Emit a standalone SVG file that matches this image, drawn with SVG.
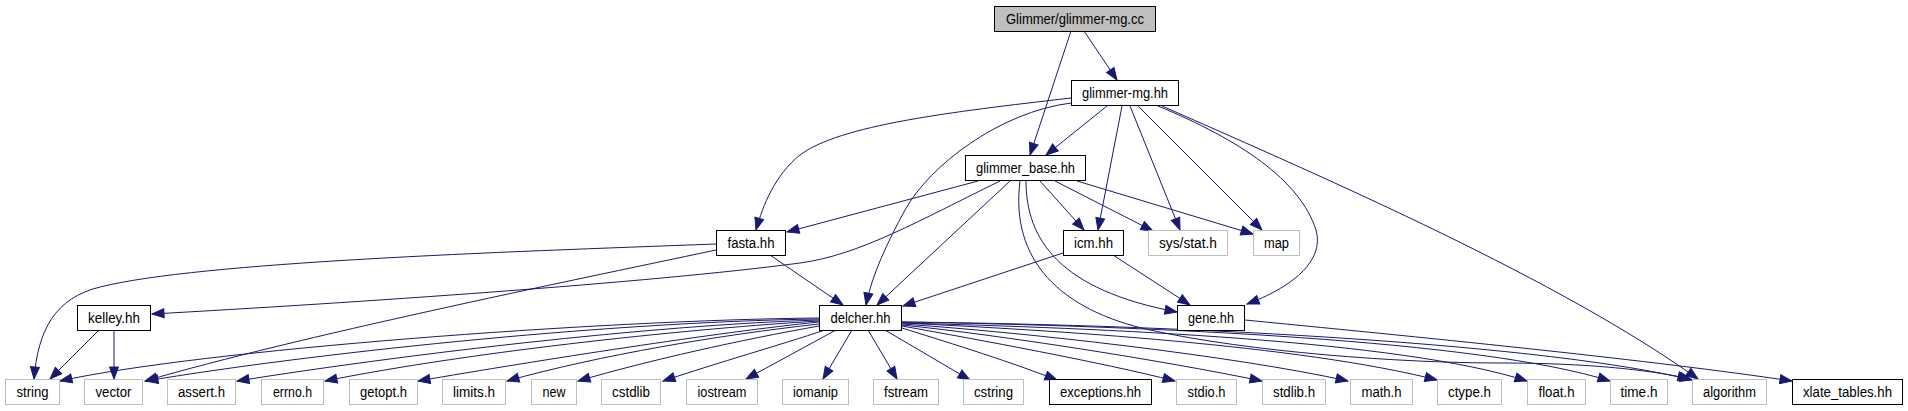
<svg xmlns="http://www.w3.org/2000/svg" width="1908" height="411" viewBox="0 0 1908 411">
<style>
.e{fill:none;stroke:#191970;stroke-width:1;marker-end:url(#ah)}
.n rect{fill:#fff;stroke:#000;stroke-width:1}
.x rect{fill:#fff;stroke:#bfbfbf;stroke-width:1}
.r rect{fill:#bfbfbf;stroke:#000;stroke-width:1}
text{font-family:"Liberation Sans",Arial,sans-serif;font-size:14px;fill:#000;text-anchor:middle}
</style>
<defs>
<marker id="ah" markerUnits="userSpaceOnUse" markerWidth="13" markerHeight="10" refX="12" refY="4.5" orient="auto" overflow="visible">
<path d="M0,0 L12,4.5 L0,9 z" fill="#191970" stroke="#191970" stroke-width="1"/>
</marker>
</defs>
<rect width="1908" height="411" fill="#fff"/>
<g id="edges">
<path class="e" d="M1084,31 L1117,80"/>
<path class="e" d="M1071,31 L1030,155"/>
<path class="e" d="M1107,106 L1046,155"/>
<path class="e" d="M1071,98 C950,112 840,125 800,155 C775,175 763,205 756,230"/>
<path class="e" d="M1071,103 C1000,112 930,165 905,210 C887,243 872,275 866,305"/>
<path class="e" d="M1122,106 L1098,230"/>
<path class="e" d="M1130,106 L1180,230"/>
<path class="e" d="M1138,106 L1262,230"/>
<path class="e" d="M1158,106 C1240,140 1300,180 1316,230 C1325,262 1290,288 1247,304"/>
<path class="e" d="M1162,106 C1330,180 1560,280 1698,379"/>
<path class="e" d="M978,181 L787,232"/>
<path class="e" d="M1000,181 C920,220 860,255 800,263 C650,283 350,303 152,314"/>
<path class="e" d="M1010,181 L877,305"/>
<path class="e" d="M1040,181 L1084,230"/>
<path class="e" d="M1055,181 L1153,231"/>
<path class="e" d="M1077,181 L1253,234"/>
<path class="e" d="M1026,181 C1026,240 1060,290 1177,312"/>
<path class="e" d="M1020,181 C1010,260 1060,310 1150,330 C1250,352 1400,363 1500,363 C1600,363 1660,372 1690,379"/>
<path class="e" d="M716,244 C500,252 200,262 100,287 C55,298 38,330 34,379"/>
<path class="e" d="M716,250 C560,283 300,336 145,381"/>
<path class="e" d="M770,255 L843,305"/>
<path class="e" d="M99,330 L50,379"/>
<path class="e" d="M114,330 L114,379"/>
<path class="e" d="M1063,253 L903,306"/>
<path class="e" d="M1113,255 L1190,305"/>
<path class="e" d="M1245,320 C1450,340 1650,360 1792,381"/>
<path class="e" d="M819,318 C600,320 200,350 60,381"/>
<path class="e" d="M819,319 C600,322 300,355 146,381"/>
<path class="e" d="M819,320 C650,325 400,355 237,381"/>
<path class="e" d="M819,321 C700,328 480,350 325,381"/>
<path class="e" d="M819,322 C720,332 540,360 418,381"/>
<path class="e" d="M819,324 C720,335 600,355 507,381"/>
<path class="e" d="M819,326 C740,340 650,360 578,381"/>
<path class="e" d="M825,330 C780,345 720,362 663,381"/>
<path class="e" d="M836,330 L746,379"/>
<path class="e" d="M852,330 L823,379"/>
<path class="e" d="M868,330 L897,379"/>
<path class="e" d="M885,330 L970,380"/>
<path class="e" d="M902,328 C940,340 1000,358 1057,380"/>
<path class="e" d="M902,326 C980,340 1100,362 1175,381"/>
<path class="e" d="M902,325 C1000,335 1160,360 1262,381"/>
<path class="e" d="M902,324 C1020,332 1230,355 1348,381"/>
<path class="e" d="M902,323 C1050,330 1300,345 1437,380"/>
<path class="e" d="M902,323 C1100,328 1400,340 1527,381"/>
<path class="e" d="M902,322 C1150,326 1480,340 1610,381"/>
<path class="e" d="M902,322 C1200,325 1550,345 1692,380"/>
</g>
<g id="node-glimmer-mg-cc" class="r"><rect x="994.5" y="6.5" width="161" height="25"/><text x="1075" y="23.5" textLength="138" lengthAdjust="spacingAndGlyphs">Glimmer/glimmer-mg.cc</text></g>
<g id="node-glimmer-mg-hh" class="n"><rect x="1071.5" y="80.5" width="107" height="25"/><text x="1125" y="97.5" textLength="86" lengthAdjust="spacingAndGlyphs">glimmer-mg.hh</text></g>
<g id="node-glimmer-base-hh" class="n"><rect x="965.5" y="155.5" width="120" height="25"/><text x="1025.5" y="172.5" textLength="99" lengthAdjust="spacingAndGlyphs">glimmer_base.hh</text></g>
<g id="node-fasta-hh" class="n"><rect x="716.5" y="230.5" width="69" height="25"/><text x="751" y="247.5" textLength="47" lengthAdjust="spacingAndGlyphs">fasta.hh</text></g>
<g id="node-icm-hh" class="n"><rect x="1063.5" y="230.5" width="60" height="25"/><text x="1093.5" y="247.5" textLength="39" lengthAdjust="spacingAndGlyphs">icm.hh</text></g>
<g id="node-sys-stat-h" class="x"><rect x="1148.5" y="230.5" width="79" height="25"/><text x="1188" y="247.5" textLength="58" lengthAdjust="spacingAndGlyphs">sys/stat.h</text></g>
<g id="node-map" class="x"><rect x="1253.5" y="230.5" width="46" height="25"/><text x="1276.5" y="247.5" textLength="25" lengthAdjust="spacingAndGlyphs">map</text></g>
<g id="node-kelley-hh" class="n"><rect x="77.5" y="305.5" width="73" height="25"/><text x="114" y="322.5" textLength="52" lengthAdjust="spacingAndGlyphs">kelley.hh</text></g>
<g id="node-delcher-hh" class="n"><rect x="819.5" y="305.5" width="82" height="25"/><text x="860.5" y="322.5" textLength="60" lengthAdjust="spacingAndGlyphs">delcher.hh</text></g>
<g id="node-gene-hh" class="n"><rect x="1177.5" y="305.5" width="67" height="25"/><text x="1211" y="322.5" textLength="46" lengthAdjust="spacingAndGlyphs">gene.hh</text></g>
<g id="node-string" class="x"><rect x="5.5" y="379.5" width="54" height="25"/><text x="32.5" y="396.5" textLength="32" lengthAdjust="spacingAndGlyphs">string</text></g>
<g id="node-vector" class="x"><rect x="84.5" y="379.5" width="58" height="25"/><text x="113.5" y="396.5" textLength="36" lengthAdjust="spacingAndGlyphs">vector</text></g>
<g id="node-assert-h" class="x"><rect x="167.5" y="379.5" width="68" height="25"/><text x="201.5" y="396.5" textLength="47" lengthAdjust="spacingAndGlyphs">assert.h</text></g>
<g id="node-errno-h" class="x"><rect x="261.5" y="379.5" width="62" height="25"/><text x="292.5" y="396.5" textLength="39" lengthAdjust="spacingAndGlyphs">errno.h</text></g>
<g id="node-getopt-h" class="x"><rect x="349.5" y="379.5" width="68" height="25"/><text x="383.5" y="396.5" textLength="47" lengthAdjust="spacingAndGlyphs">getopt.h</text></g>
<g id="node-limits-h" class="x"><rect x="442.5" y="379.5" width="63" height="25"/><text x="474" y="396.5" textLength="42" lengthAdjust="spacingAndGlyphs">limits.h</text></g>
<g id="node-new" class="x"><rect x="531.5" y="379.5" width="45" height="25"/><text x="554" y="396.5" textLength="23" lengthAdjust="spacingAndGlyphs">new</text></g>
<g id="node-cstdlib" class="x"><rect x="601.5" y="379.5" width="59" height="25"/><text x="631" y="396.5" textLength="38" lengthAdjust="spacingAndGlyphs">cstdlib</text></g>
<g id="node-iostream" class="x"><rect x="686.5" y="379.5" width="71" height="25"/><text x="722" y="396.5" textLength="49" lengthAdjust="spacingAndGlyphs">iostream</text></g>
<g id="node-iomanip" class="x"><rect x="782.5" y="379.5" width="66" height="25"/><text x="815.5" y="396.5" textLength="45" lengthAdjust="spacingAndGlyphs">iomanip</text></g>
<g id="node-fstream" class="x"><rect x="873.5" y="379.5" width="65" height="25"/><text x="906" y="396.5" textLength="44" lengthAdjust="spacingAndGlyphs">fstream</text></g>
<g id="node-cstring" class="x"><rect x="963.5" y="379.5" width="60" height="25"/><text x="993.5" y="396.5" textLength="39" lengthAdjust="spacingAndGlyphs">cstring</text></g>
<g id="node-exceptions-hh" class="n"><rect x="1049.5" y="379.5" width="102" height="25"/><text x="1100.5" y="396.5" textLength="81" lengthAdjust="spacingAndGlyphs">exceptions.hh</text></g>
<g id="node-stdio-h" class="x"><rect x="1176.5" y="379.5" width="60" height="25"/><text x="1206.5" y="396.5" textLength="38" lengthAdjust="spacingAndGlyphs">stdio.h</text></g>
<g id="node-stdlib-h" class="x"><rect x="1262.5" y="379.5" width="63" height="25"/><text x="1294" y="396.5" textLength="42" lengthAdjust="spacingAndGlyphs">stdlib.h</text></g>
<g id="node-math-h" class="x"><rect x="1350.5" y="379.5" width="62" height="25"/><text x="1381.5" y="396.5" textLength="40" lengthAdjust="spacingAndGlyphs">math.h</text></g>
<g id="node-ctype-h" class="x"><rect x="1437.5" y="379.5" width="64" height="25"/><text x="1469.5" y="396.5" textLength="43" lengthAdjust="spacingAndGlyphs">ctype.h</text></g>
<g id="node-float-h" class="x"><rect x="1527.5" y="379.5" width="58" height="25"/><text x="1556.5" y="396.5" textLength="36" lengthAdjust="spacingAndGlyphs">float.h</text></g>
<g id="node-time-h" class="x"><rect x="1610.5" y="379.5" width="57" height="25"/><text x="1639" y="396.5" textLength="37" lengthAdjust="spacingAndGlyphs">time.h</text></g>
<g id="node-algorithm" class="x"><rect x="1692.5" y="379.5" width="74" height="25"/><text x="1729.5" y="396.5" textLength="53" lengthAdjust="spacingAndGlyphs">algorithm</text></g>
<g id="node-xlate-tables-hh" class="n"><rect x="1792.5" y="379.5" width="110" height="25"/><text x="1847.5" y="396.5" textLength="89" lengthAdjust="spacingAndGlyphs">xlate_tables.hh</text></g>
</svg>
